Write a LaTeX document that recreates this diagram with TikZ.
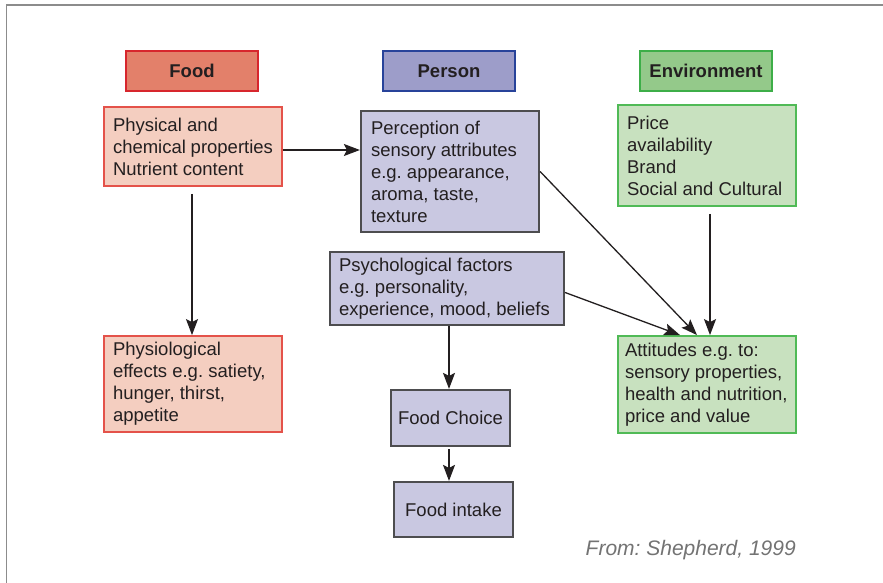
\documentclass[tikz,border=0pt]{standalone}
\usepackage{fontspec}
\setmainfont{Liberation Sans}
\usetikzlibrary{arrows.meta}
\frenchspacing

\definecolor{foodhead}{HTML}{E3806A}
\definecolor{foodheadline}{HTML}{D7262D}
\definecolor{foodbox}{HTML}{F4CEC0}
\definecolor{foodline}{HTML}{E4524A}
\definecolor{personhead}{HTML}{9D9DC9}
\definecolor{personheadline}{HTML}{28439A}
\definecolor{personbox}{HTML}{C9C8E1}
\definecolor{personline}{HTML}{4D4D4F}
\definecolor{envhead}{HTML}{94C98A}
\definecolor{envheadline}{HTML}{3DAE48}
\definecolor{envbox}{HTML}{C8E1BF}
\definecolor{envline}{HTML}{50BA56}
\definecolor{ink}{HTML}{231F20}
\definecolor{framegray}{HTML}{8C8C8C}

\tikzset{
  txt/.style={font=\fontsize{18.5}{22}\selectfont\frenchspacing, text=ink},
  head/.style={txt, font=\fontsize{18.5}{22}\selectfont\bfseries, line width=2.6pt,
    minimum width=132pt, minimum height=40pt, inner sep=0pt},
  card/.style={txt, line width=1.8pt, align=flush left, inner xsep=9pt, inner ysep=0pt},
  foodcard/.style={card, draw=foodline, fill=foodbox},
  personcard/.style={card, draw=personline, fill=personbox, line width=2.2pt},
  envcard/.style={card, draw=envline, fill=envbox},
  link/.style={draw=ink, line width=1.3pt,
    -{Stealth[length=16pt,width=12pt,inset=3pt]}},
}

\begin{document}
\begin{tikzpicture}[x=1pt,y=-1pt]
  \useasboundingbox[fill=white] (0,0) rectangle (883,583);
  % outer frame (left and top rules only)
  \draw[framegray, line width=1.6pt] (6.5,583) -- (6.5,5) -- (883,5);

  % column headings
  \node[head, draw=foodheadline, fill=foodhead] (foodh) at (192,71) {Food};
  \node[head, draw=personheadline, fill=personhead] (personh) at (449,71) {Person};
  \node[head, draw=envheadline, fill=envhead] (envh) at (706,71) {Environment};

  % food column
  \node[foodcard, minimum width=178pt, minimum height=79pt, text width=160pt]
    (phys) at (193,146.5) {Physical and\\chemical properties\\Nutrient content};
  \node[foodcard, minimum width=178pt, minimum height=96pt, text width=160pt]
    (physio) at (193,384) {Physiological\\effects e.g. satiety,\\hunger, thirst,\\appetite};

  % person column
  \node[personcard, minimum width=178pt, minimum height=121pt, text width=158pt, inner xsep=10pt]
    (perc) at (450,171.5) {Perception of\\sensory attributes\\e.g. appearance,\\aroma, taste,\\texture};
  \node[personcard, minimum width=234pt, minimum height=73pt, text width=216pt]
    (psych) at (447,288.5) {Psychological factors\\e.g. personality,\\experience, mood, beliefs};
  \node[personcard, align=center, minimum width=119pt, minimum height=56pt, inner xsep=0pt]
    (choice) at (450.5,418) {Food Choice};
  \node[personcard, align=center, minimum width=119pt, minimum height=55pt, inner xsep=0pt]
    (intake) at (453.5,509.5) {Food intake};

  % environment column
  \node[envcard, minimum width=178pt, minimum height=101pt, text width=160pt]
    (price) at (707,155.5) {Price\\availability\\Brand\\Social and Cultural};
  \node[envcard, minimum width=178pt, minimum height=97pt, text width=164pt, inner xsep=7pt]
    (att) at (707,384.5) {Attitudes e.g. to:\\sensory properties,\\health and nutrition,\\price and value};

  % connectors
  \draw[link] ([yshift=-3.5pt]phys.east) -- ([yshift=-3.5pt]phys.east -| perc.west);
  \draw[link] ([xshift=-1pt,yshift=-7pt]phys.south) -- ([xshift=-1pt]physio.north);
  \draw[link] (perc.east) -- ([xshift=-10pt]att.north);
  \draw[link] ([yshift=-4pt]psych.east) -- ([xshift=-27pt]att.north);
  \draw[link] ([xshift=3pt,yshift=-7pt]price.south) -- ([xshift=3pt]att.north);
  \draw[link] ([xshift=-1.5pt]choice.north |- psych.south) -- ([xshift=-1.5pt]choice.north);
  \draw[link] ([xshift=-1.5pt,yshift=-2pt]choice.south) -- ([xshift=-1.5pt]choice.south |- intake.north);

  % source note
  \node[anchor=east, font=\fontsize{21}{24}\selectfont\itshape, text=black!55, inner sep=0pt]
    (source) at (796,550) {From: Shepherd, 1999};
\end{tikzpicture}
\end{document}
